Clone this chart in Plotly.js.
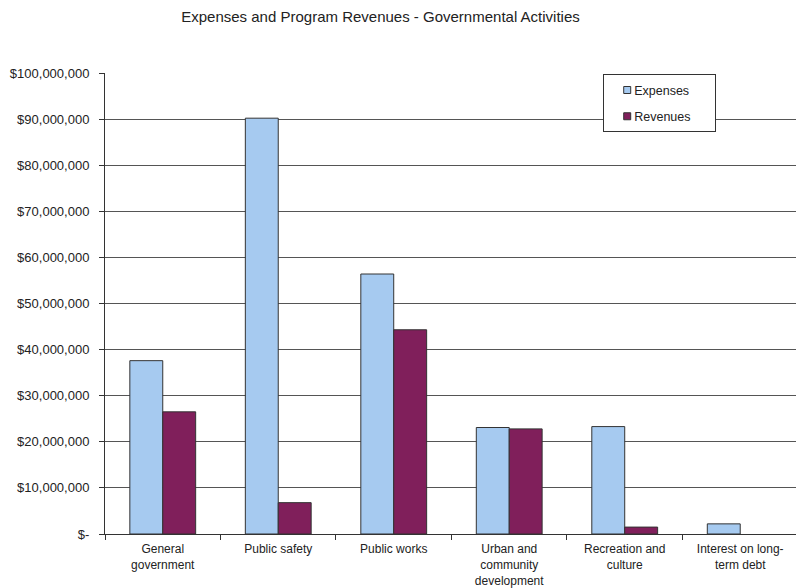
<!DOCTYPE html>
<html>
<head>
<meta charset="utf-8">
<script src="https://cdn.plot.ly/plotly-3.0.1.min.js"></script>
<style>
  html, body { margin: 0; padding: 0; background: #fff; }
  #chart { width: 796px; height: 588px; }
</style>
</head>
<body>
<div id="chart"></div>
<script>
// Governmental activities: expenses vs. program revenues by function
const categories = [
  "General<br>government",
  "Public safety",
  "Public works",
  "Urban and<br>community<br>development",
  "Recreation and<br>culture",
  "Interest on long-<br>term debt"
];
const expenses = [37600000, 90200000, 56400000, 23100000, 23300000, 2200000];
const revenues = [26500000, 6800000, 44300000, 22800000, 1500000, 0];

const yTickVals = [0, 10000000, 20000000, 30000000, 40000000, 50000000,
                   60000000, 70000000, 80000000, 90000000, 100000000];
const yTickText = ["$-", "$10,000,000", "$20,000,000", "$30,000,000", "$40,000,000",
                   "$50,000,000", "$60,000,000", "$70,000,000", "$80,000,000",
                   "$90,000,000", "$100,000,000"];

const FONT = "Liberation Sans, Arial, sans-serif";

// no outline on empty (zero-height) bars
const outlineWidths = v => v.map(val => (val > 0 ? 1 : 0));

const traces = [
  {
    type: "bar", name: "Expenses", x: categories, y: expenses,
    legendgroup: "exp",
    marker: { color: "#A6CAF0", line: { color: "#333333", width: outlineWidths(expenses) } },
    hoverinfo: "skip"
  },
  {
    type: "bar", name: "Revenues", x: categories, y: revenues,
    legendgroup: "rev",
    marker: { color: "#801F5B", line: { color: "#333333", width: outlineWidths(revenues) } },
    hoverinfo: "skip"
  }
];

const layout = {
  width: 796, height: 588,
  margin: { l: 105, r: 0, t: 73, b: 54 },
  paper_bgcolor: "#ffffff", plot_bgcolor: "#ffffff",
  font: { family: FONT, size: 12, color: "#333333" },
  title: {
    text: "Expenses and Program Revenues - Governmental Activities",
    font: { family: FONT, size: 15, color: "#222222" },
    x: 0.478, xanchor: "center", y: 0.972, yanchor: "middle"
  },
  barmode: "group",
  bargap: 0.43,
  bargroupgap: 0,
  xaxis: {
    type: "category",
    range: [-0.5, 5.483],
    showline: true, linecolor: "#333333", linewidth: 1,
    ticks: "outside", tickson: "boundaries", ticklen: 5, tickcolor: "#333333",
    ticklabelstandoff: 4,
    showgrid: false, zeroline: false,
    tickfont: { family: FONT, size: 12, color: "#222222" },
    automargin: false
  },
  yaxis: {
    range: [0, 100000000],
    tickvals: yTickVals, ticktext: yTickText,
    showline: true, linecolor: "#333333", linewidth: 1,
    ticks: "outside", ticklen: 5, tickcolor: "#333333",
    ticklabelstandoff: 7,
    showgrid: true, gridcolor: "#555555", gridwidth: 1,
    zeroline: false,
    tickfont: { family: FONT, size: 13, color: "#222222" },
    automargin: false
  },
  showlegend: true,
  legend: {
    x: 0.721, xanchor: "left", y: 0.997, yanchor: "top",
    bgcolor: "#ffffff", bordercolor: "#333333", borderwidth: 1,
    font: { family: FONT, size: 12.5, color: "#222222" },
    traceorder: "grouped",
    tracegroupgap: 7,
    itemwidth: 30
  }
};

Plotly.newPlot("chart", traces, layout, { staticPlot: true, displayModeBar: false })
  .then(gd => {
    // compact legend: small square swatches sitting right next to the labels
    gd.querySelectorAll(".legend .legendpoints path").forEach(p => {
      p.setAttribute("d", "M3.5,3.5H-3.5V-3.5H3.5Z");
      p.setAttribute("transform", "translate(23,0)");
      p.style.strokeWidth = "1px";
      p.style.stroke = "#333333";
    });
    gd.querySelectorAll(".legend text.legendtext").forEach(t => {
      t.setAttribute("x", "30");
    });
    gd.querySelectorAll(".legend rect.bg").forEach(r => {
      r.setAttribute("width", "112");
    });
  });
</script>
</body>
</html>
